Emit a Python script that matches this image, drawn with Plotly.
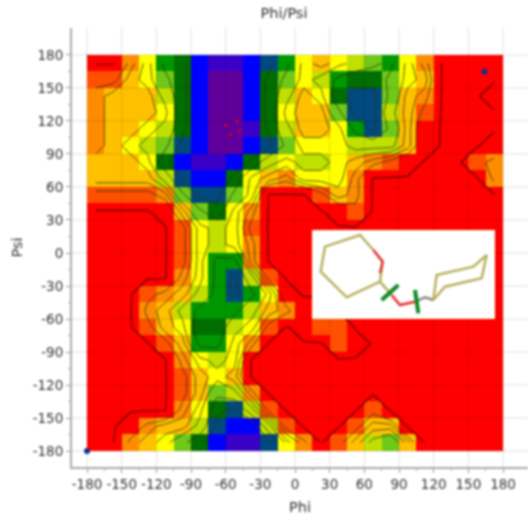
import plotly.graph_objects as go

# Phi and Psi bin centres (15 degree bins); psi listed from top row to bottom row
phi_bins = [-172.5, -157.5, -142.5, -127.5, -112.5, -97.5, -82.5, -67.5, -52.5, -37.5, -22.5, -7.5,
            7.5, 22.5, 37.5, 52.5, 67.5, 82.5, 97.5, 112.5, 127.5, 142.5, 157.5, 172.5]
psi_bins = [172.5, 157.5, 142.5, 127.5, 112.5, 97.5, 82.5, 67.5, 52.5, 37.5, 22.5, 7.5,
            -7.5, -22.5, -37.5, -52.5, -67.5, -82.5, -97.5, -112.5, -127.5, -142.5, -157.5, -172.5]

# Population level per bin (-1 = emptiest red, 12 = most populated purple)
levels = [
    [-1,-1,2,4,7,8,10,11,11,10,9,7,4,3,4,5,6,7,4,2,-1,-1,-1,-1],
    [1,1,3,4,6,8,10,12,12,10,8,6,4,5,7,8,8,6,4,3,-1,-1,-1,-1],
    [2,3,3,3,5,8,10,12,12,10,8,5,3,4,8,9,9,6,3,2,-1,-1,-1,0],
    [2,3,3,3,4,8,10,12,12,10,8,4,3,3,6,9,9,5,3,1,-1,-1,-1,-1],
    [2,3,3,4,5,8,10,12,12,11,8,5,3,3,4,7,9,6,3,0,-1,-1,-1,-1],
    [2,3,4,5,6,9,10,12,12,10,9,6,4,4,4,5,5,5,3,0,-1,-1,-1,0],
    [3,3,3,4,8,10,11,11,10,8,5,4,5,5,4,3,2,1,0,-1,-1,-1,1,2],
    [3,3,3,3,5,9,10,10,8,4,3,2,4,4,4,2,-1,-1,-1,-1,-1,-1,-1,2],
    [1,1,1,1,2,6,9,9,6,4,-1,-1,-1,1,3,2,-1,-1,-1,-1,-1,-1,-1,-1],
    [-1,-1,-1,-1,0,3,6,8,4,2,-1,-1,-1,-1,0,1,-1,-1,-1,-1,-1,-1,-1,-1],
    [-1,-1,-1,-1,-1,1,4,5,4,1,-1,-1,-1,-1,-1,-1,-1,-1,-1,-1,-1,-1,-1,-1],
    [-1,-1,-1,-1,-1,1,4,5,4,2,-1,-1,-1,-1,-1,-1,-1,-1,-1,-1,-1,-1,-1,-1],
    [-1,-1,-1,-1,-1,1,4,7,7,2,-1,-1,-1,-1,-1,-1,-1,-1,-1,-1,-1,-1,-1,-1],
    [-1,-1,-1,-1,-1,2,4,7,9,5,1,-1,-1,-1,-1,-1,-1,-1,-1,-1,-1,-1,-1,-1],
    [-1,-1,-1,1,2,3,5,7,9,7,4,0,-1,-1,-1,-1,-1,-1,-1,-1,-1,-1,-1,-1],
    [-1,-1,-1,2,3,5,7,7,7,5,3,2,0,0,-1,-1,-1,-1,-1,-1,-1,-1,-1,-1],
    [-1,-1,-1,1,3,4,8,8,5,4,1,-1,0,1,1,-1,-1,-1,-1,-1,-1,-1,-1,-1],
    [-1,-1,-1,-1,1,3,7,7,4,2,-1,-1,-1,-1,1,0,-1,-1,-1,-1,-1,-1,-1,-1],
    [-1,-1,-1,-1,-1,2,4,5,4,-1,-1,-1,-1,-1,-1,-1,-1,-1,-1,-1,-1,-1,-1,-1],
    [-1,-1,-1,-1,-1,1,3,4,3,-1,-1,-1,-1,-1,-1,-1,-1,-1,-1,-1,-1,-1,-1,-1],
    [-1,-1,-1,-1,-1,1,3,6,5,2,-1,-1,-1,-1,-1,-1,-1,-1,-1,-1,-1,-1,-1,-1],
    [-1,-1,-1,-1,-1,2,4,8,9,5,1,-1,-1,-1,-1,-1,1,-1,-1,-1,-1,-1,-1,-1],
    [-1,-1,0,2,3,3,5,9,10,10,5,1,-1,-1,-1,1,3,3,-1,-1,-1,-1,-1,-1],
    [-1,-1,2,3,4,6,8,10,11,11,9,4,2,-1,1,3,5,6,3,-1,-1,-1,-1,-1],
]

level_colors = ["#ff0000", "#ff5000", "#ff8c00", "#ffc000", "#ffff00", "#c0e000", "#70c818",
                "#009800", "#006e00", "#004a80", "#0000ff", "#3a00c8", "#60009a"]
contour_levels = [1.5, 2.5, 3.5, 4.5, 6.5, 8.5]

ticks = [-180, -150, -120, -90, -60, -30, 0, 30, 60, 90, 120, 150, 180]
minor_ticks = [-165, -135, -105, -75, -45, -15, 15, 45, 75, 105, 135, 165]

blue_phi = [164, -180]
blue_psi = [165, -180]
red_phi = [-60, -50, -56, -48]
red_psi = [116, 120, 108, 111]

# Inset molecule, in the inset's own drawing units
ring_x = [220, 180, 75, 62, 140, 240, 248]
ring_y = [90, 45, 80, 155, 232, 185, 125]
oxygen_x = [220, 248, 240]
oxygen_y = [90, 125, 160]
linker_x = [240, 275]
linker_y = [185, 225]
link_red_x = [275, 300, 345]
link_red_y = [225, 255, 245]
link_grey_x = [345, 375, 400]
link_grey_y = [245, 232, 240]
ring2_x = [400, 435, 545, 560, 520, 410, 400]
ring2_y = [240, 200, 175, 105, 140, 165, 240]
bond1_x = [245, 295]
bond1_y = [240, 195]
bond2_x = [345, 355]
bond2_y = [210, 280]
inset_x = [36, 585, 585, 36, 36]
inset_y = [30, 30, 297, 297, 30]

X_RANGE = [-193, 201.6]
Y_RANGE = [-194.5, 204.5]
W, H = 528, 517
L, T, R, B = 72, 28, 528, 467

colorscale = []
n = len(level_colors)
for i, c in enumerate(level_colors):
    colorscale += [[i / n, c], [(i + 1) / n, c]]

fig = go.Figure()
fig.add_trace(go.Heatmap(
    x=phi_bins, y=psi_bins, z=[[max(v, 0) for v in row] for row in levels],
    zmin=-0.5, zmax=12.5, colorscale=colorscale, showscale=False, hoverinfo="skip"))
for lv in contour_levels:
    fig.add_trace(go.Contour(
        x=phi_bins, y=psi_bins, z=levels, showscale=False, hoverinfo="skip",
        contours=dict(coloring="none", start=lv, end=lv, size=1),
        line=dict(color="rgba(50,50,10,0.85)", width=1, smoothing=0)))
fig.add_trace(go.Contour(
    x=phi_bins, y=psi_bins, z=levels, showscale=False, hoverinfo="skip",
    contours=dict(coloring="none", start=-0.85, end=-0.85, size=1),
    line=dict(color="#700000", width=1.3, smoothing=0)))

grid_x, grid_y = [], []
for t in ticks:
    grid_x += [t, t, None]
    grid_y += [Y_RANGE[0], Y_RANGE[1], None]
    grid_x += [X_RANGE[0], X_RANGE[1], None]
    grid_y += [t, t, None]
fig.add_trace(go.Scatter(x=grid_x, y=grid_y, mode="lines", hoverinfo="skip",
                         line=dict(color="rgba(0,0,0,0.12)", width=1)))
fig.add_trace(go.Scatter(x=blue_phi, y=blue_psi, mode="markers", hoverinfo="skip",
                         marker=dict(color="#10308a", size=6)))
fig.add_trace(go.Scatter(x=red_phi, y=red_psi, mode="markers", hoverinfo="skip",
                         marker=dict(color="#e00020", size=3)))

def inset(xs, ys, color, width, **kw):
    fig.add_trace(go.Scatter(x=xs, y=ys, xaxis="x2", yaxis="y2", mode="lines", hoverinfo="skip",
                             line=dict(color=color, width=width), **kw))

inset(inset_x, inset_y, "rgba(255,230,0,0.6)", 1, fill="toself", fillcolor="white")
fig.data[-1].line.dash = "dot"
inset(ring_x, ring_y, "#b9b060", 2.5)
inset(ring2_x, ring2_y, "#b9b060", 2.5)
inset(linker_x, linker_y, "#b9b060", 2.5)
inset(oxygen_x, oxygen_y, "#e03030", 2.5)
inset(link_red_x, link_red_y, "#e83030", 2.5)
inset(link_grey_x, link_grey_y, "#8a8a80", 2.5)
inset(bond1_x, bond1_y, "#0a8a20", 4)
inset(bond2_x, bond2_y, "#0a8a20", 4)

text_font = dict(family="DejaVu Sans", size=14.5, color="#333333")
axis_common = dict(
    showgrid=False, zeroline=False, showline=True, linecolor="#aaaaaa", linewidth=2,
    tickmode="array", tickvals=ticks, ticktext=[str(t) for t in ticks],
    ticks="outside", ticklen=4, tickcolor="#999999",
    tickfont=dict(family="DejaVu Sans", size=13.5, color="#333333"),
    minor=dict(tickmode="array", tickvals=minor_ticks, ticks="outside", ticklen=2, tickcolor="#aaaaaa"),
    fixedrange=True,
)

fig.update_layout(
    width=W, height=H, autosize=False, showlegend=False,
    paper_bgcolor="white", plot_bgcolor="white",
    margin=dict(l=L, r=W - R, t=T, b=H - B),
    title=dict(text="Phi/Psi", x=284 / W, y=1 - 13 / H, xanchor="center", yanchor="middle", font=text_font),
    xaxis=dict(range=X_RANGE, title=dict(text="Phi", font=text_font, standoff=11), **axis_common),
    yaxis=dict(range=Y_RANGE, title=dict(text="Psi", font=text_font, standoff=7), **axis_common),
    xaxis2=dict(domain=[(312 - L) / (R - L), (495 - L) / (R - L)], range=[36, 585], visible=False, anchor="y2"),
    yaxis2=dict(domain=[1 - (319 - T) / (B - T), 1 - (230 - T) / (B - T)], range=[297, 30], visible=False, anchor="x2"),
)

fig.write_html("out.html", config=dict(displayModeBar=False),
               post_script="document.body.style.margin='0';document.body.style.overflow='hidden';"
                           "document.querySelector('.plotly-graph-div').style.filter='blur(1px)';")
